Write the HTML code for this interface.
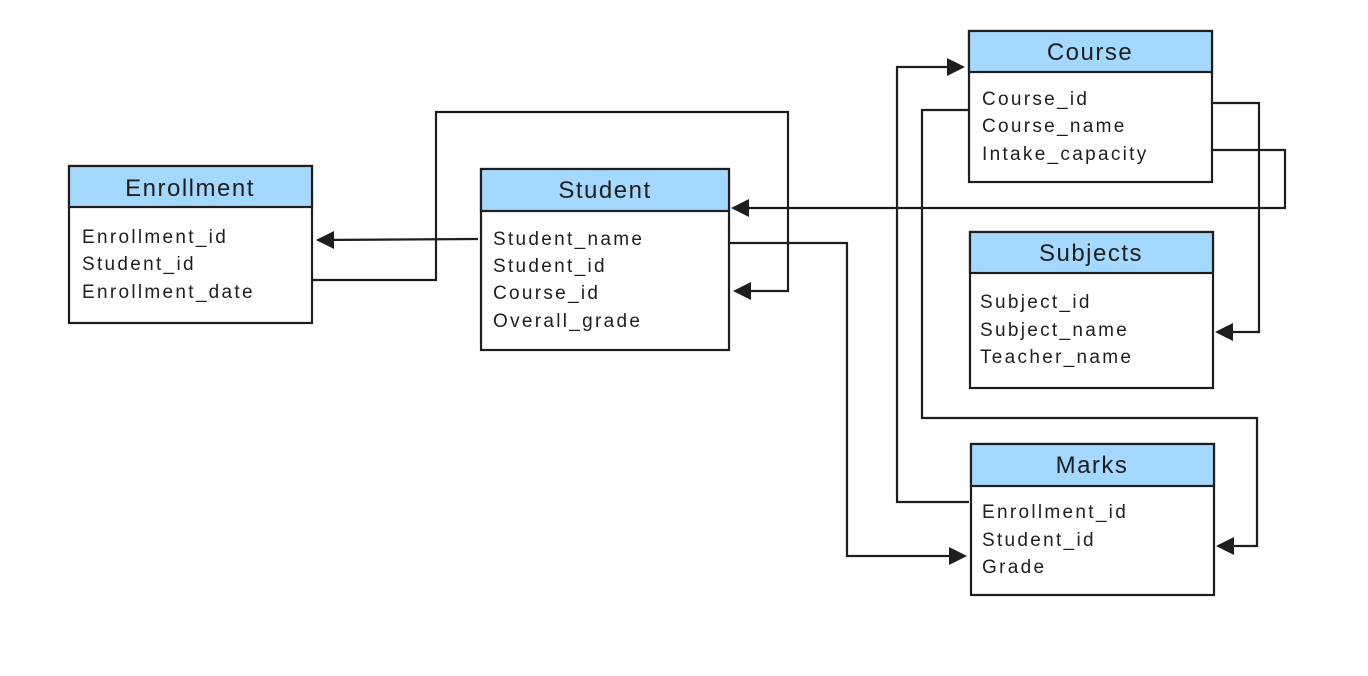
<!DOCTYPE html>
<html><head><meta charset="utf-8"><style>
body{margin:0;background:#fff;width:1368px;height:671px;overflow:hidden;font-family:"Liberation Sans",sans-serif}
</style></head><body>
<svg width="1368" height="671" xmlns="http://www.w3.org/2000/svg">
<g fill="none" stroke="#1e1e1e" stroke-width="2.2">
<polyline points="478,239 318,240"/>
<polyline points="313,280 436,280 436,112 788,112 788,291 735,291"/>
<polyline points="1213,150 1285,150 1285,208 733,208"/>
<polyline points="727,243 847,243 847,556 965,556"/>
<polyline points="969,502 897,502 897,67 963,67"/>
<polyline points="968,110 922,110 922,418 1257,418 1257,546 1218,546"/>
<polyline points="1213,103 1259,103 1259,332 1217,332"/>
</g>
<g fill="#1e1e1e">
<path d="M316,240 l18,-9 v18z"/>
<path d="M733,291 l18,-9 v18z"/>
<path d="M731,208 l18,-9 v18z"/>
<path d="M967,556 l-18,-9 v18z"/>
<path d="M965,67 l-18,-9 v18z"/>
<path d="M1216,546 l18,-9 v18z"/>
<path d="M1215,332 l18,-9 v18z"/>
</g>
<g stroke="#1e1e1e" stroke-width="2.2">
<rect x="69" y="166" width="243" height="157" fill="#fff"/><rect x="69" y="166" width="243" height="41" fill="#a5d8ff"/>
<rect x="481" y="169" width="248" height="181" fill="#fff"/><rect x="481" y="169" width="248" height="42" fill="#a5d8ff"/>
<rect x="969" y="31" width="243" height="151" fill="#fff"/><rect x="969" y="31" width="243" height="41" fill="#a5d8ff"/>
<rect x="970" y="232" width="243" height="156" fill="#fff"/><rect x="970" y="232" width="243" height="41" fill="#a5d8ff"/>
<rect x="971" y="444" width="243" height="151" fill="#fff"/><rect x="971" y="444" width="243" height="42" fill="#a5d8ff"/>
</g>
<g fill="#1e1e1e" font-family="Liberation Sans, sans-serif">
<g font-size="24" text-anchor="middle" letter-spacing="1.5">
<text x="190" y="196">Enrollment</text>
<text x="605" y="198">Student</text>
<text x="1090" y="60">Course</text>
<text x="1091" y="261">Subjects</text>
<text x="1092" y="473">Marks</text>
</g>
<g font-size="19" letter-spacing="2.3">
<text x="82" y="243">Enrollment_id</text><text x="82" y="270">Student_id</text><text x="82" y="298">Enrollment_date</text>
<text x="493" y="245">Student_name</text><text x="493" y="272">Student_id</text><text x="493" y="299">Course_id</text><text x="493" y="327">Overall_grade</text>
<text x="982" y="105">Course_id</text><text x="982" y="132">Course_name</text><text x="982" y="160">Intake_capacity</text>
<text x="980" y="308">Subject_id</text><text x="980" y="336">Subject_name</text><text x="980" y="363">Teacher_name</text>
<text x="982" y="518">Enrollment_id</text><text x="982" y="546">Student_id</text><text x="982" y="573">Grade</text>
</g></g>
</svg>
</body></html>
